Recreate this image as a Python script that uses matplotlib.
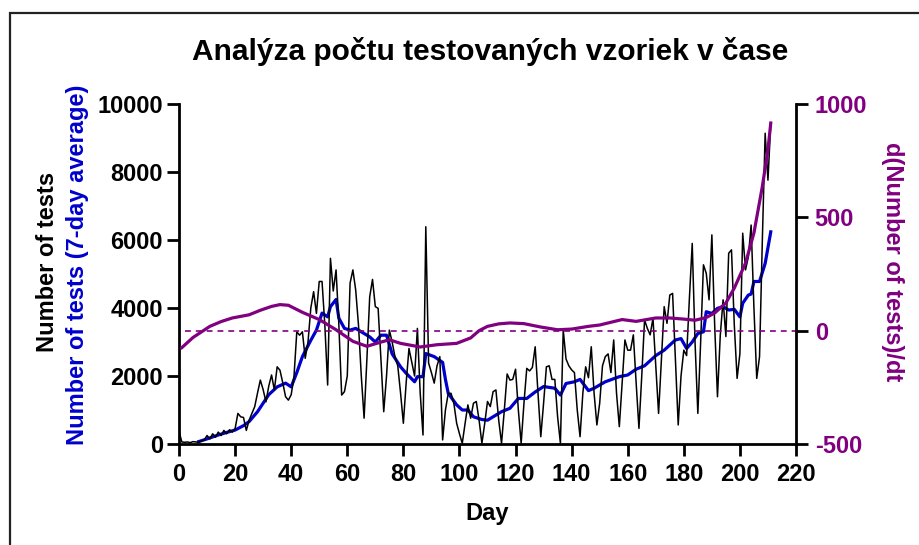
import numpy as np
import matplotlib
matplotlib.use('Agg')
import matplotlib.pyplot as plt
from matplotlib.patches import Rectangle

plt.rcParams['font.family'] = ['Liberation Sans', 'DejaVu Sans']
plt.rcParams['font.weight'] = 'bold'
plt.rcParams['axes.unicode_minus'] = False

# daily number of tests (day 0..211)
tests = [380, 60, 50, 60, 40, 70, 60, 50, 90, 120,
         250, 150, 300, 200, 350, 250, 400, 300, 420, 350,
         450, 900, 800, 780, 400, 700, 900, 1100, 1500, 1880,
         1600, 1240, 1700, 2030, 1590, 2270, 2170, 1800, 1390, 1290,
         1450, 1980, 3300, 3200, 3300, 2520, 3000, 4000, 4480, 3840,
         4780, 4780, 3500, 1735, 5460, 4500, 5120, 3500, 1440, 1540,
         2000, 4730, 5120, 4530, 3500, 2000, 760, 2500, 4330, 4840,
         4040, 3990, 2500, 950, 2000, 3350, 3000, 2570, 2300, 1500,
         610, 1800, 2810, 2400, 2000, 3400, 1500, 265, 6390, 2380,
         2100, 1790, 2300, 2570, 120, 1000, 1490, 1490, 1200, 610,
         300, 20, 600, 1150, 760, 1200, 1250, 700, 20, 600,
         1250, 1100, 1540, 1590, 700, 20, 1000, 2060, 1880, 1900,
         2200, 1000, 20, 1200, 2225, 2150, 2250, 2860, 1500, 215,
         1200, 2270, 2300, 1900, 1900, 800, 20, 3350, 2500, 2300,
         2180, 2100, 1000, 215, 1500, 2270, 1950, 2860, 1500, 560,
         1200, 2300, 2570, 2650, 2100, 3060, 1500, 510, 1800, 3060,
         2760, 2760, 3210, 1800, 460, 2000, 3650, 3400, 3210, 3700,
         2300, 900, 2500, 4040, 3550, 4380, 4430, 2500, 560, 2000,
         2760, 2600, 4300, 5900, 3000, 900, 3000, 5270, 5020, 4240,
         6150, 3500, 1390, 3200, 4240, 3160, 5610, 5710, 3500, 1930,
         2660, 6200, 5120, 5500, 6440, 4000, 1930, 2570, 6000, 9140,
         7760, 9430]
days = np.arange(len(tests))

# 7-day average
avg_days = [7, 10, 14, 17, 20, 23, 25, 28, 30, 32, 35, 38, 40, 42, 44, 47, 49, 51, 53, 54,
            56, 57, 59, 61, 63, 65, 66, 68, 70, 72, 74, 76, 79, 81, 84, 85, 87, 88, 91, 94,
            95, 96, 99, 101, 103, 105, 108, 110, 113, 115, 118, 121, 124, 127, 130, 134, 136, 138, 141, 143,
            146, 148, 152, 157, 160, 163, 166, 170, 173, 177, 179, 181, 183, 185, 187, 188, 190, 192, 194, 196,
            198, 200, 201, 203, 204, 205, 207, 209, 211]
avg_vals = [70, 150, 265, 340, 410, 540, 660, 950, 1200, 1450, 1680, 1790, 1680, 2100, 2570, 3050, 3350, 3850, 3740, 4040,
            4250, 3700, 3400, 3350, 3400, 3300, 3250, 3150, 3000, 3200, 3200, 2650, 2270, 2080, 1830, 1980, 1980, 2660, 2570, 2400,
            1900, 1490, 1150, 1000, 1000, 800, 720, 700, 850, 950, 1050, 1340, 1340, 1530, 1690, 1640, 1440, 1780, 1830, 1900,
            1570, 1640, 1830, 1980, 2030, 2200, 2300, 2600, 2760, 3060, 3100, 2810, 3000, 3250, 3300, 3890, 3840, 3990, 4040, 3940,
            3960, 3740, 4140, 4380, 4410, 4780, 4780, 5310, 6240]

# derivative
der_days = [1, 5, 11, 15, 19, 25, 29, 33, 36, 39, 44, 50, 56, 62, 67, 71, 75, 79, 86, 92,
            99, 104, 107, 110, 114, 118, 123, 129, 135, 140, 146, 150, 153, 158, 163, 170, 175, 180, 184, 188,
            191, 195, 198, 202, 205, 208, 210, 211]
der_vals = [-75, -30, 19, 40, 56, 70, 90, 107, 115, 112, 81, 49, 4, -47, -69, -54, -40, -56, -72, -62,
            -56, -32, 0, 19, 30, 34, 31, 16, 4, 7, 19, 25, 34, 49, 41, 56, 56, 51, 46, 58,
            78, 122, 188, 298, 431, 636, 798, 916]

purple = '#800080'
blue = '#0000CC'

fig = plt.figure(figsize=(9.2, 5.45), dpi=100)
ax = fig.add_axes([179/920, 1 - 444/545, (796 - 179)/920, (444 - 104)/545])
ax2 = ax.twinx()

ax.plot(avg_days, avg_vals, color=blue, lw=2.3, zorder=2)
ax.plot(days, tests, color='black', lw=1.1, zorder=3)
ax2.plot(der_days, der_vals, color=purple, lw=2.3)
ax2.axhline(0, xmin=0.01, xmax=1, color=purple, lw=1.2, ls=(0, (3.5, 3)))

ax.set_xlim(0, 220)
ax.set_ylim(0, 10000)
ax2.set_ylim(-500, 1000)
ax.set_xticks(range(0, 221, 20))
ax.set_yticks(range(0, 10001, 2000))
ax2.set_yticks([-500, 0, 500, 1000])

for a in (ax, ax2):
    a.spines['top'].set_visible(False)
    for s in a.spines.values():
        s.set_linewidth(2)
ax.spines['right'].set_visible(False)
ax2.spines['left'].set_visible(False)
ax2.spines['bottom'].set_visible(False)

ax.tick_params(axis='y', width=2, length=8.5, labelsize=17, pad=3)
ax.tick_params(axis='x', width=2, length=8.5, labelsize=17, pad=5)
ax2.tick_params(width=2, length=8.5, labelsize=17, pad=5, labelcolor=purple)
for lab in ax.get_xticklabels() + ax.get_yticklabels() + ax2.get_yticklabels():
    lab.set_fontweight('bold')

ax.set_xlabel('Day', fontsize=17, fontweight='bold', labelpad=12)
fig.text(48/920, 1 - 262/545, 'Number of tests', rotation=90, ha='center', va='center',
         fontsize=17, fontweight='bold', color='black')
fig.text(78/920, 1 - 265/545, 'Number of tests (7-day average)', rotation=90, ha='center', va='center',
         fontsize=17, fontweight='bold', color=blue)
fig.text(893/920, 1 - 262/545, 'd(Number of tests)/dt', rotation=270, ha='center', va='center',
         fontsize=17, fontweight='bold', color=purple)
fig.text(490/920, 1 - 52/545, 'Analýza počtu testovaných vzoriek v čase', ha='center', va='center',
         fontsize=21.5, fontweight='bold')

# outer frame
fig.patches.append(Rectangle((10/920, -0.1), 1.0, 1.1 - 13/545, transform=fig.transFigure,
                             fill=False, edgecolor='#222222', lw=1.6, clip_on=False))

fig.savefig('out.png', dpi=100)
